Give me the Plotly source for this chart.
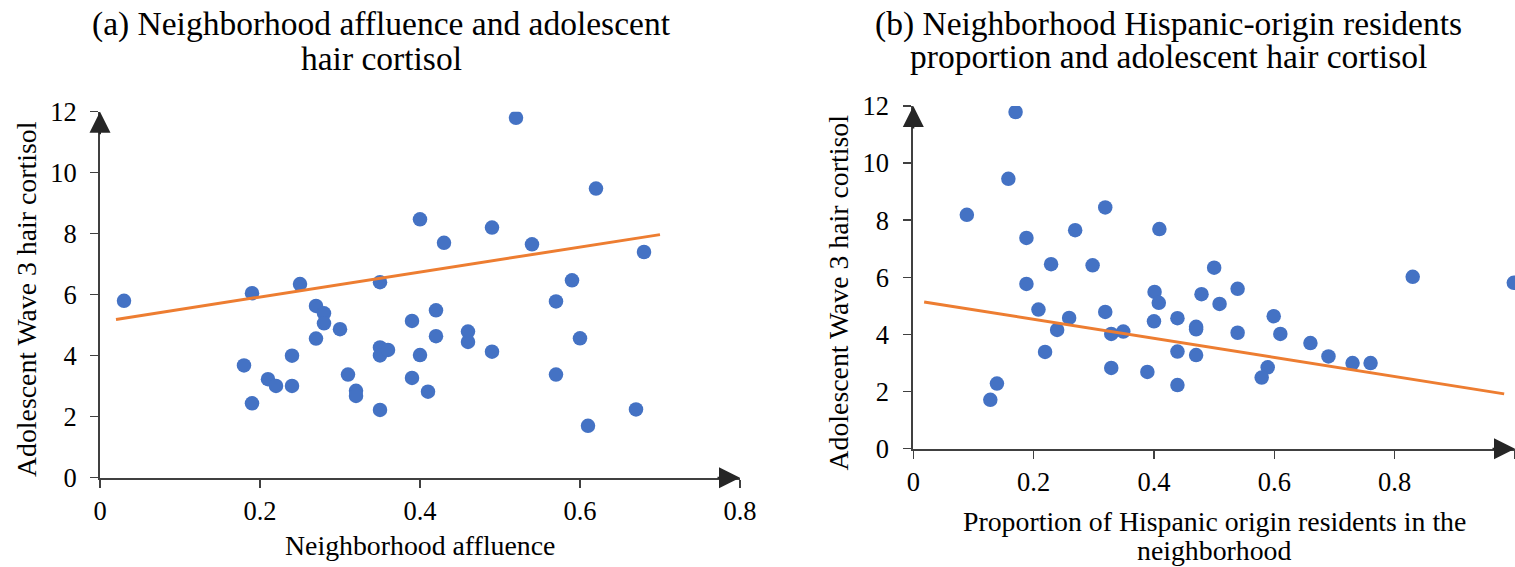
import plotly.graph_objects as go

# ---------------- data ----------------
affluence = [0.03, 0.19, 0.25, 0.35, 0.27, 0.28, 0.28, 0.30, 0.27, 0.18,
             0.24, 0.21, 0.22, 0.24, 0.19, 0.31, 0.32, 0.32, 0.35, 0.35,
             0.35, 0.36, 0.52, 0.62, 0.40, 0.49, 0.43, 0.54, 0.68, 0.59,
             0.57, 0.42, 0.39, 0.42, 0.46, 0.46, 0.49, 0.40, 0.60, 0.39,
             0.57, 0.41, 0.67, 0.61]
cortisol_a = [5.80, 6.05, 6.35, 6.41, 5.63, 5.39, 5.06, 4.87, 4.56, 3.68,
              4.00, 3.23, 3.01, 3.01, 2.44, 3.38, 2.85, 2.68, 2.22, 4.27,
              4.01, 4.19, 11.80, 9.48, 8.47, 8.20, 7.70, 7.65, 7.40, 6.47,
              5.78, 5.49, 5.14, 4.64, 4.79, 4.45, 4.13, 4.02, 4.57, 3.27,
              3.38, 2.82, 2.24, 1.70]
trend_a_x = [0.02, 0.70]
trend_a_y = [5.19, 7.97]

hispanic = [0.170, 0.158, 0.089, 0.319, 0.188, 0.269, 0.229, 0.298, 0.188, 0.208,
            0.259, 0.319, 0.239, 0.329, 0.349, 0.219, 0.329, 0.389, 0.139, 0.128,
            0.401, 0.408, 0.400, 0.409, 0.500, 0.539, 0.479, 0.509, 0.439, 0.470,
            0.470, 0.539, 0.599, 0.610, 0.660, 0.690, 0.730, 0.760, 0.830, 0.998,
            0.439, 0.470, 0.439, 0.589, 0.579]
cortisol_b = [11.79, 9.45, 8.19, 8.45, 7.38, 7.65, 6.46, 6.42, 5.77, 4.87,
              4.58, 4.79, 4.16, 4.02, 4.10, 3.39, 2.83, 2.69, 2.28, 1.71,
              5.49, 5.11, 4.46, 7.69, 6.34, 5.60, 5.41, 5.07, 4.57, 4.27,
              4.18, 4.06, 4.64, 4.02, 3.70, 3.23, 3.00, 3.00, 6.02, 5.81,
              3.40, 3.28, 2.23, 2.85, 2.49]
trend_b_x = [0.018, 0.982]
trend_b_y = [5.14, 1.92]

x_ticks_a = [0, 0.2, 0.4, 0.6, 0.8]
x_tick_text_a = ["0", "0.2", "0.4", "0.6", "0.8"]
x_ticks_b = [0, 0.2, 0.4, 0.6, 0.8, 1.0]
x_tick_text_b = ["0", "0.2", "0.4", "0.6", "0.8", "1"]
y_ticks = [0, 2, 4, 6, 8, 10, 12]

title_a = ["(a) Neighborhood affluence and adolescent", "hair cortisol"]
title_b = ["(b) Neighborhood Hispanic-origin residents", "proportion and adolescent hair cortisol"]
x_title_a = ["Neighborhood affluence"]
x_title_b = ["Proportion of Hispanic origin residents in the", "neighborhood"]
y_title = "Adolescent Wave 3 hair cortisol"

# ---------------- styles ----------------
W, H = 1515, 567
FONT = "Liberation Serif"
BLUE = "#4472C4"
ORANGE = "#ED7D31"
AXIS = "#404040"
ARROW = "#262626"


def px(x):
    return x / W


def py(y):
    return 1 - y / H


fig = go.Figure()
fig.add_trace(go.Scatter(x=affluence, y=cortisol_a, mode="markers",
                         marker=dict(color=BLUE, size=14.5), xaxis="x", yaxis="y",
                         showlegend=False))
fig.add_trace(go.Scatter(x=trend_a_x, y=trend_a_y, mode="lines",
                         line=dict(color=ORANGE, width=3), xaxis="x", yaxis="y",
                         showlegend=False))
fig.add_trace(go.Scatter(x=hispanic, y=cortisol_b, mode="markers",
                         marker=dict(color=BLUE, size=14.5), xaxis="x2", yaxis="y2",
                         showlegend=False))
fig.add_trace(go.Scatter(x=trend_b_x, y=trend_b_y, mode="lines",
                         line=dict(color=ORANGE, width=3), xaxis="x2", yaxis="y2",
                         showlegend=False))

tickfont = dict(family=FONT, size=26.5, color="#000000")
common_axis = dict(showgrid=False, zeroline=False, showline=True, linecolor=AXIS,
                   linewidth=2, ticks="outside", ticklen=8, tickwidth=1.5,
                   tickcolor=AXIS, tickfont=tickfont, automargin=False)

fig.update_layout(
    width=W, height=H, autosize=False,
    margin=dict(l=0, r=0, t=0, b=0, pad=0),
    paper_bgcolor="white", plot_bgcolor="white",
    xaxis=dict(domain=[px(100), px(740)], range=[0, 0.8], tickvals=x_ticks_a,
               ticktext=x_tick_text_a, anchor="y", ticklabelstandoff=0, **common_axis),
    yaxis=dict(domain=[py(477.7), py(111.7)], range=[0, 12], tickvals=y_ticks,
               anchor="x", ticklabelstandoff=8, **common_axis),
    xaxis2=dict(domain=[px(913.3), 1.0], range=[0, 1.0], tickvals=x_ticks_b,
                ticktext=x_tick_text_b, anchor="y2", ticklabelstandoff=0, **common_axis),
    yaxis2=dict(domain=[py(448.7), py(106)], range=[0, 12], tickvals=y_ticks,
                anchor="x2", ticklabelstandoff=9, **common_axis),
)

annotations = []
# titles
for t, yc in zip(title_a, [23.8, 58.8]):
    annotations.append(dict(text=t, x=px(381), y=py(yc), xref="paper", yref="paper",
                            xanchor="center", yanchor="middle", showarrow=False,
                            font=dict(family=FONT, size=33.5, color="#000000")))
for t, yc in zip(title_b, [23.8, 56.5]):
    annotations.append(dict(text=t, x=px(1168), y=py(yc), xref="paper", yref="paper",
                            xanchor="center", yanchor="middle", showarrow=False,
                            font=dict(family=FONT, size=33.5, color="#000000")))
# axis titles
for t, yc in zip(x_title_a, [545.7]):
    annotations.append(dict(text=t, x=px(420), y=py(yc), xref="paper", yref="paper",
                            xanchor="center", yanchor="middle", showarrow=False,
                            font=dict(family=FONT, size=27.8, color="#000000")))
for t, yc in zip(x_title_b, [521, 550]):
    annotations.append(dict(text=t, x=px(1214), y=py(yc), xref="paper", yref="paper",
                            xanchor="center", yanchor="middle", showarrow=False,
                            font=dict(family=FONT, size=27.8, color="#000000")))
annotations.append(dict(text=y_title, x=px(26), y=py(299), xref="paper", yref="paper",
                        xanchor="center", yanchor="middle", showarrow=False, textangle=-90,
                        font=dict(family=FONT, size=27.8, color="#000000")))
annotations.append(dict(text=y_title, x=px(838), y=py(292.5), xref="paper", yref="paper",
                        xanchor="center", yanchor="middle", showarrow=False, textangle=-90,
                        font=dict(family=FONT, size=27.8, color="#000000")))

# axis arrows
arrow_style = dict(text="", showarrow=True, arrowhead=2, arrowsize=2.1, arrowwidth=2,
                   arrowcolor=ARROW, axref="pixel", ayref="pixel")
annotations.append(dict(x=0.8, y=0, xref="x", yref="y", ax=-24, ay=0, **arrow_style))
annotations.append(dict(x=0, y=12, xref="x", yref="y", ax=0, ay=24, **arrow_style))
annotations.append(dict(x=1.0, y=0, xref="x2", yref="y2", ax=-24, ay=0, **arrow_style))
annotations.append(dict(x=0, y=12, xref="x2", yref="y2", ax=0, ay=24, **arrow_style))

fig.update_layout(annotations=annotations)

fig.write_html(
    "out.html",
    config={"displayModeBar": False, "staticPlot": True},
    post_script="document.body.style.margin='0';document.body.style.padding='0';"
                "document.body.style.overflow='hidden';"
                "document.documentElement.style.overflow='hidden';",
)
